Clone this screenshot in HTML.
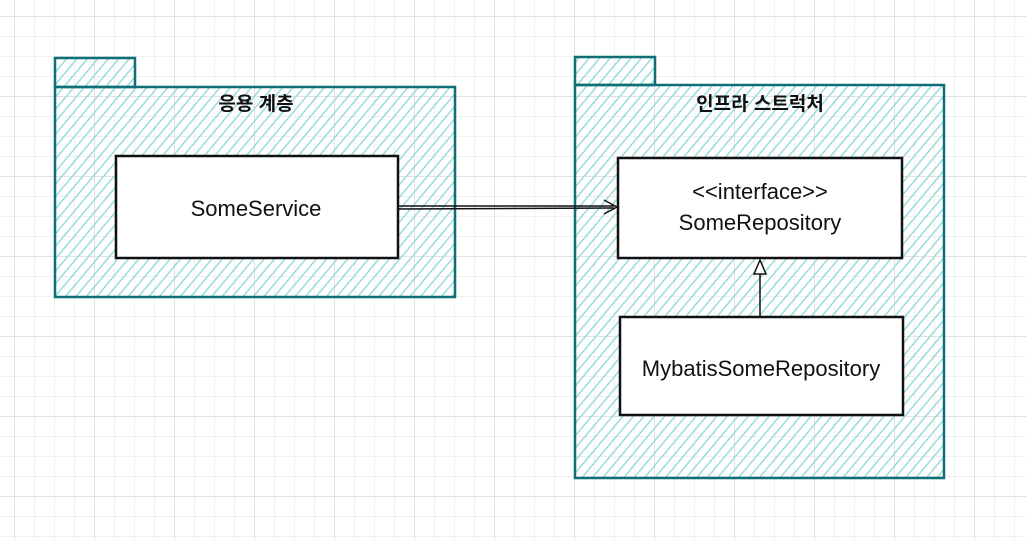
<!DOCTYPE html>
<html><head><meta charset="utf-8"><style>
body{margin:0;width:1026px;height:540px;overflow:hidden;background:#fff}
</style></head><body>
<svg width="1026" height="540" xmlns="http://www.w3.org/2000/svg" font-family="'Liberation Sans','Noto Sans CJK KR',sans-serif">
<defs>
<pattern id="g" width="20" height="20" patternUnits="userSpaceOnUse" x="14" y="16">
<path d="M0 0H20M0 0V20" stroke="#ececec" stroke-width="1.5" fill="none"/>
</pattern>
<pattern id="G" width="80" height="80" patternUnits="userSpaceOnUse" x="14" y="16">
<path d="M0 0H80M0 0V80" stroke="#d0d0d0" stroke-width="1" fill="none"/>
</pattern>
<pattern id="h" width="8" height="8" patternUnits="userSpaceOnUse" patternTransform="rotate(40)">
<line x1="0" y1="0" x2="0" y2="8" stroke="#9adcdc" stroke-width="3"/>
</pattern>
</defs>
<rect width="1026" height="540" fill="url(#g)"/>
<rect width="1026" height="540" fill="url(#G)"/>
<g stroke="#0e6f76" stroke-width="2.5">
<rect x="55" y="58" width="80" height="29" fill="url(#h)"/>
<rect x="55" y="87" width="400" height="210" fill="url(#h)"/>
<rect x="575" y="57" width="80" height="28" fill="url(#h)"/>
<rect x="575" y="85" width="369" height="393" fill="url(#h)"/>
</g>
<g stroke="#111" stroke-width="2.5" fill="#fff">
<rect x="116" y="156" width="282" height="102"/>
<rect x="618" y="158" width="284" height="100"/>
<rect x="620" y="317" width="283" height="98"/>
</g>
<g stroke="#111" stroke-width="1.5" fill="none">
<path d="M398 206 L614 206 M398 209 L614 208"/>
<path d="M604 200 L617 207 L604 214"/>
<path d="M760 316 L760 272"/>
<path d="M754 274 L760 260 L766 274 Z" fill="#fff"/>
</g>
<g text-anchor="middle" fill="#111">
<text x="256" y="110" font-size="19" font-weight="bold">응용 계층</text>
<text x="760" y="110" font-size="19" font-weight="bold">인프라 스트럭처</text>
<text x="256" y="216" font-size="22">SomeService</text>
<text x="760" y="199" font-size="22">&lt;&lt;interface&gt;&gt;</text>
<text x="760" y="230" font-size="22">SomeRepository</text>
<text x="761" y="376" font-size="22">MybatisSomeRepository</text>
</g>
</svg>
</body></html>
